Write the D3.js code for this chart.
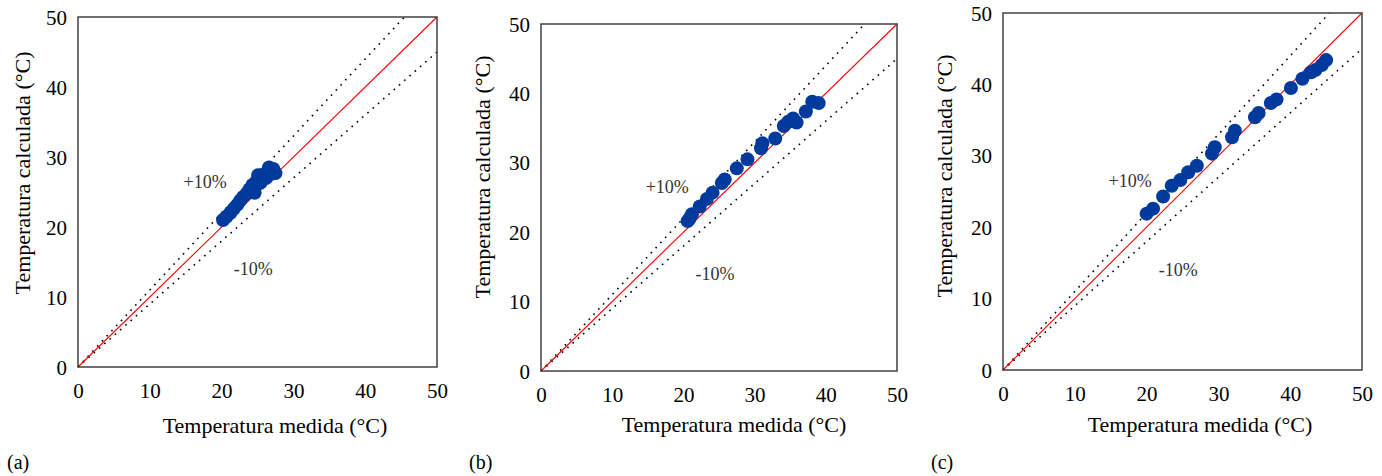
<!DOCTYPE html>
<html>
<head>
<meta charset="utf-8">
<script src="https://cdn.jsdelivr.net/npm/d3@7"></script>
<style>
  body { margin: 0; background: #fff; }
  svg { display: block; font-family: "Liberation Serif", "Times New Roman", serif; }
</style>
</head>
<body>
<svg id="chart" width="1382" height="476"></svg>
<script>
// measured vs calculated temperature, three cases
var serif = '"Liberation Serif", "Times New Roman", serif'
var ticks = [0, 10, 20, 30, 40, 50]
var panelNames = ['(a)', '(b)', '(c)']

var measA = [20.2, 20.7, 21.2, 21.7, 22.2, 22.6, 23.0, 23.5, 23.9, 24.3, 24.6, 24.9, 25.1, 25.4, 25.8, 26.2, 26.6, 26.9, 27.2, 27.5]
var calcA = [21.0, 21.5, 22.0, 22.6, 23.2, 23.8, 24.3, 24.8, 25.4, 26.0, 24.9, 26.6, 27.4, 26.3, 27.5, 27.0, 28.5, 27.6, 28.3, 27.7]

var measB = [20.6, 20.9, 21.2, 22.3, 23.3, 24.1, 25.4, 25.8, 27.5, 29.0, 30.9, 31.1, 32.9, 34.1, 34.7, 35.4, 35.9, 37.2, 38.1, 39.0]
var calcB = [21.6, 22.0, 22.6, 23.7, 24.8, 25.7, 27.1, 27.6, 29.2, 30.5, 32.1, 32.8, 33.5, 35.3, 35.9, 36.4, 35.8, 37.4, 38.8, 38.6]

var measC = [20.0, 20.9, 22.3, 23.5, 24.7, 25.8, 27.0, 29.1, 29.5, 31.9, 32.3, 35.1, 35.6, 37.3, 38.1, 40.1, 41.7, 42.9, 43.5, 44.4, 45.0]
var calcC = [21.9, 22.6, 24.3, 25.8, 26.6, 27.7, 28.6, 30.3, 31.2, 32.6, 33.5, 35.4, 36.0, 37.4, 37.9, 39.5, 40.8, 41.7, 42.0, 42.7, 43.4]

var bandLabels = [{text: '+10%', x: 14.7, y: 25.6}, {text: '-10%', x: 21.7, y: 13.1}]
var bands = [1.1, 0.9]

var panels = [
  {name: panelNames[0], meas: measA, calc: calcA, box: [78, 437, 17, 367], yl: [22, 173], xl: [275, 433], tag: [7, 469]},
  {name: panelNames[1], meas: measB, calc: calcB, box: [541, 897, 24, 371], yl: [482, 177], xl: [734, 432], tag: [469, 469]},
  {name: panelNames[2], meas: measC, calc: calcC, box: [1003, 1362, 13, 370], yl: [944, 176], xl: [1200, 432], tag: [931, 469]}
]

var svg = d3.select('#chart')

function styleAxis(a){
  a.select('.domain').remove()
  a.attr('font-family', serif).attr('font-size', 21)
  a.selectAll('.tick text').attr('fill', '#000')
}

panels.forEach(function(p){
  var x = d3.scaleLinear().domain([0, 50]).range([p.box[0], p.box[1]])
  var y = d3.scaleLinear().domain([0, 50]).range([p.box[3], p.box[2]])
  var g = svg.append('g')

  g.append('g')
    .attr('transform', 'translate(0,' + (p.box[3] + 10) + ')')
    .call(d3.axisBottom(x).tickValues(ticks).tickSize(0).tickPadding(6))
    .call(styleAxis)

  g.append('g')
    .attr('transform', 'translate(' + (p.box[0] - 11) + ',0)')
    .call(d3.axisLeft(y).tickValues(ticks).tickSize(0).tickPadding(0))
    .call(styleAxis)
    .selectAll('.tick text').attr('dy', '0.34em')

  // bands +-10%
  bands.forEach(function(k){
    var end = k > 1 ? [50 / k, 50] : [50, 50 * k]
    g.append('line')
      .attr('x1', x(0)).attr('y1', y(0))
      .attr('x2', x(end[0])).attr('y2', y(end[1]))
      .attr('stroke', '#000').attr('stroke-width', 1.6)
      .attr('stroke-dasharray', '1.6 5.4')
  })

  g.append('line')
    .attr('x1', x(0)).attr('y1', y(0))
    .attr('x2', x(50)).attr('y2', y(50))
    .attr('stroke', '#ff0000').attr('stroke-width', 1.1)

  g.selectAll('text.band').data(bandLabels).enter().append('text')
    .attr('class', 'band')
    .attr('x', d => x(d.x)).attr('y', d => y(d.y))
    .attr('font-size', 18).attr('fill', '#333')
    .text(d => d.text)

  g.selectAll('circle').data(p.meas).enter().append('circle')
    .attr('cx', d => x(d))
    .attr('cy', (d, i) => y(p.calc[i]))
    .attr('r', 7)
    .attr('fill', '#003a9c')

  g.append('rect')
    .attr('x', p.box[0]).attr('y', p.box[2])
    .attr('width', p.box[1] - p.box[0]).attr('height', p.box[3] - p.box[2])
    .attr('fill', 'none').attr('stroke', '#404040').attr('stroke-width', 1.5)

  g.append('text')
    .attr('x', p.xl[0]).attr('y', p.xl[1])
    .attr('text-anchor', 'middle').attr('font-size', 22)
    .text('Temperatura medida (°C)')

  g.append('text')
    .attr('transform', 'translate(' + p.yl[0] + ',' + p.yl[1] + ') rotate(-90)')
    .attr('text-anchor', 'middle').attr('dy', '0.35em').attr('font-size', 22)
    .text('Temperatura calculada (°C)')

  g.append('text')
    .attr('x', p.tag[0]).attr('y', p.tag[1])
    .attr('font-size', 20)
    .text(p.name)
})
</script>
</body>
</html>
